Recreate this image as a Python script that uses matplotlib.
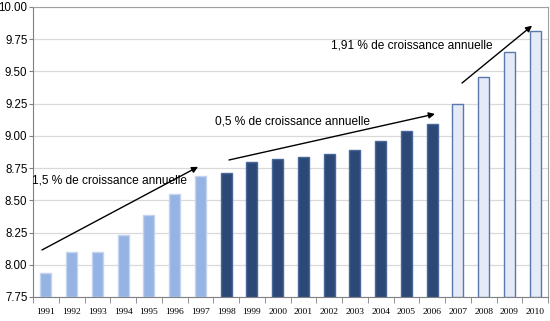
import matplotlib.pyplot as plt
import numpy as np

# data
years = [str(y) for y in range(1991, 2011)]
values = [7.94, 8.10, 8.10, 8.23, 8.39, 8.55, 8.69,
          8.71, 8.80, 8.82, 8.84, 8.86, 8.89, 8.96, 9.04, 9.09,
          9.25, 9.46, 9.65, 9.81]
period = ['a'] * 7 + ['b'] * 9 + ['c'] * 4

# colours per period: (fill, edge)
styles = {'a': ('#95B3E3', '#C3D4EE'),
          'b': ('#2C4877', '#4A679C'),
          'c': ('#E4EAF6', '#5A78AC')}

labels = ['1,5 % de croissance annuelle',
          '0,5 % de croissance annuelle',
          '1,91 % de croissance annuelle']
label_pos = [(-0.52, 8.65), (6.58, 9.11), (11.08, 9.70)]
arrows = [((-0.15, 8.115), (5.91, 8.76)),
          ((7.11, 8.813), (15.11, 9.17)),
          ((16.16, 9.41), (18.88, 9.855))]

plt.rcParams['font.family'] = ['Liberation Sans', 'DejaVu Sans']

fig = plt.figure(figsize=(5.5, 3.21), dpi=100)
ax = fig.add_axes([33 / 550, 1 - 297 / 321, 515 / 550, 290 / 321])

x = np.arange(len(years))
for i, (v, p) in enumerate(zip(values, period)):
    fc, ec = styles[p]
    ax.bar(x[i], v - 7.75, bottom=7.75, width=0.42, color=fc,
           edgecolor=ec, linewidth=1.0, zorder=3)

ax.set_xlim(-0.5, len(years) - 0.5)
ax.set_ylim(7.75, 10.0)
ax.set_yticks(np.arange(7.75, 10.01, 0.25))
ax.set_yticklabels([f'{t:.2f}' for t in np.arange(7.75, 10.01, 0.25)],
                   fontsize=8.3)
ax.yaxis.grid(True, color='#D9D9D9', linewidth=0.9, zorder=0)

# x tick labels centred, tick marks between categories
ax.set_xticks(x)
ax.set_xticklabels(years, fontsize=6.8, family='Liberation Serif')
ax.tick_params(axis='x', length=0, pad=8)
ax.set_xticks(np.arange(-0.5, len(years), 1), minor=True)
ax.tick_params(axis='x', which='minor', length=4, color='#808080')
ax.tick_params(axis='y', length=3, color='#808080', pad=1)

for s in ['top', 'right']:
    ax.spines[s].set_color('#A0A0A0')
ax.spines['left'].set_color('#808080')
ax.spines['bottom'].set_color('#808080')

for (txt, (tx, ty)) in zip(labels, label_pos):
    ax.text(tx, ty, txt, fontsize=8.6, va='center', ha='left', zorder=5)

for (p0, p1) in arrows:
    ax.annotate('', xy=p1, xytext=p0,
                arrowprops=dict(arrowstyle='-|>', color='black', lw=1.0,
                                mutation_scale=9, shrinkA=0, shrinkB=0),
                zorder=6)

fig.savefig('out.png', dpi=100)
